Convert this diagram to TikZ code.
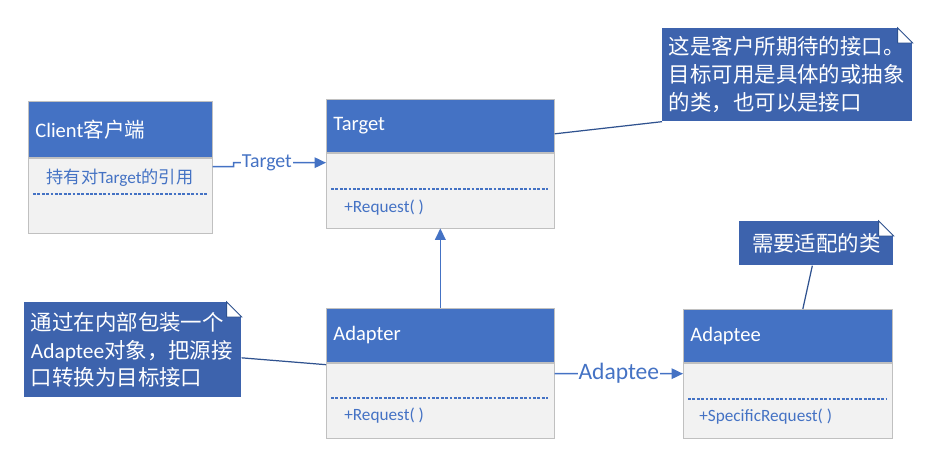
\documentclass[tikz,border=0pt]{standalone}
\usepackage{fontspec}
\setmainfont{Carlito}
\newfontfamily\cjk{Noto Sans CJK SC}
\newfontfamily\lat{Carlito}
\usetikzlibrary{arrows.meta,calc}
\definecolor{hdblue}{HTML}{4472C4}
\definecolor{bodygray}{HTML}{F2F2F2}
\definecolor{edgegray}{HTML}{C0C0C0}
\definecolor{noteblue}{HTML}{3D63AD}
\definecolor{noteedge}{HTML}{2F528F}
\newcommand\notefold[1]{%
  \fill[white] ($(#1.north east)+(-15,0)$) -- (#1.north east) -- ($(#1.north east)+(0,15)$) -- cycle;
  \filldraw[fill=white,draw=noteedge,line width=0.5pt] ($(#1.north east)+(-15,0)$) -- ($(#1.north east)+(0,15)$) -- ($(#1.north east)+(-15,15)$) -- cycle;}
\begin{document}
\begin{tikzpicture}[x=0.02cm,y=-0.02cm,
  head/.style={draw=edgegray,fill=hdblue,text=white,anchor=north west,inner xsep=0.14cm,inner ysep=0pt,align=left,font=\fontsize{11.7}{14}\selectfont},
  body/.style={draw=edgegray,fill=bodygray,anchor=north west,inner sep=0pt},
  member/.style={text=hdblue,inner sep=0pt,font=\fontsize{9.8}{11.8}\selectfont},
  sep/.style={hdblue,line width=0.6pt,dash pattern=on 1.6pt off 0.9pt},
  note/.style={fill=noteblue,text=white,anchor=north west,inner xsep=0.13cm,inner ysep=0pt,font=\cjk\fontsize{12.2}{15.9}\selectfont},
  noteline/.style={noteedge,line width=0.7pt},
  arrow/.style={hdblue,line width=0.85pt,-{Triangle[length=6.5pt,width=6pt]}},
  lbl/.style={fill=white,text=hdblue,inner sep=0.5pt}]
  \useasboundingbox (0,0) rectangle (937,475);

  \node[head,text width=3.4cm,minimum height=1.12cm] (clihead) at (28,101) {Client{\cjk 客户端}};
  \node[body,minimum width=3.68cm,minimum height=1.5cm] (clibody) at (clihead.south west) {};
  \node[member] (cliref) at (120,178) {{\cjk 持有对}Target{\cjk 的引用}};
  \draw[sep] (33,194) -- (207,194);

  \node[head,text width=4.28cm,minimum height=1.06cm] (tgthead) at (326,99) {Target};
  \node[body,minimum width=4.56cm,minimum height=1.5cm] (tgtbody) at (tgthead.south west) {};
  \draw[sep] (331,189) -- (548,189);
  \node[member,anchor=west] (tgtop) at (344,208) {+Request( )};

  \node[head,text width=4.28cm,minimum height=1.08cm] (adphead) at (326,308) {Adapter};
  \node[body,minimum width=4.56cm,minimum height=1.5cm] (adpbody) at (adphead.south west) {};
  \draw[sep] (331,398) -- (548,398);
  \node[member,anchor=west] (adpop) at (344,416) {+Request( )};

  \node[head,text width=3.9cm,minimum height=1.06cm] (adeehead) at (683,309) {Adaptee};
  \node[body,minimum width=4.18cm,minimum height=1.5cm] (adeebody) at (adeehead.south west) {};
  \draw[sep] (688,399) -- (887,399);
  \node[member,anchor=west] (adeeop) at (699,417) {+SpecificRequest( )};

  \node[note,text width=4.74cm,minimum height=1.86cm,align=left] (tnote) at (662,28)
    {这是客户所期待的接口。\\目标可用是具体的或抽象\\的类，也可以是接口};
  \notefold{tnote}
  \node[note,text width=2.82cm,minimum height=0.88cm,align=center] (anote) at (739,221) {需要适配的类};
  \notefold{anote}
  \node[note,text width=4.08cm,minimum height=1.9cm,align=left] (lnote) at (24,302)
    {通过在内部包装一个\\{\lat Adaptee}对象，把源接\\口转换为目标接口};
  \notefold{lnote}

  \draw[arrow] ($(clibody.north east)+(0,9)$) -- ++(21,0) -- ++(0,-4)
    -- node[lbl,pos=0.36,font=\fontsize{11.3}{13.6}\selectfont] (tgtlbl) {Target} ($(tgtbody.north west)+(0,10)$);
  \draw[arrow] (adphead.north) -- (tgtbody.south);
  \draw[arrow] ($(adpbody.north east)+(0,11)$)
    -- node[lbl,font=\fontsize{13.4}{16}\selectfont] (adeelbl) {Adaptee} ($(adeebody.north west)+(0,11)$);

  \draw[noteline] (tnote.south west) -- ($(tgthead.east)+(0,8)$);
  \draw[noteline] ($(anote.south)+(-4,0)$) -- ($(adeehead.north)+(15,0)$);
  \draw[noteline] ($(lnote.east)+(0,8)$) -- ($(adpbody.north west)+(0,2)$);
\end{tikzpicture}
\end{document}
